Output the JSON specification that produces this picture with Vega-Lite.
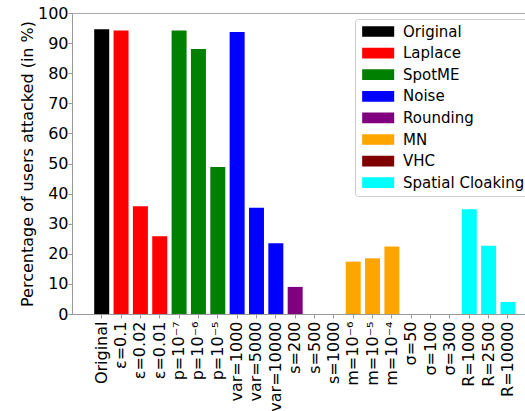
{
  "$schema": "https://vega.github.io/schema/vega-lite/v6.json",
  "width": 453,
  "height": 301,
  "autosize": {"type": "none"},
  "padding": {"left": 72, "top": 13, "right": 0, "bottom": 97},
  "background": "white",
  "config": {
    "font": "DejaVu Sans",
    "view": {"stroke": "#aaaaaa", "strokeWidth": 1}
  },
  "data": {
    "values": [
      {"label": "Original", "method": "Original", "value": 94.6},
      {"label": "ε=0.1", "method": "Laplace", "value": 94.2},
      {"label": "ε=0.02", "method": "Laplace", "value": 35.8},
      {"label": "ε=0.01", "method": "Laplace", "value": 25.8},
      {"label": "p=10⁻⁷", "method": "SpotME", "value": 94.2},
      {"label": "p=10⁻⁶", "method": "SpotME", "value": 88.0},
      {"label": "p=10⁻⁵", "method": "SpotME", "value": 48.8},
      {"label": "var=1000", "method": "Noise", "value": 93.7},
      {"label": "var=5000", "method": "Noise", "value": 35.3},
      {"label": "var=10000", "method": "Noise", "value": 23.5},
      {"label": "s=200", "method": "Rounding", "value": 9.0},
      {"label": "s=500", "method": "Rounding", "value": 0},
      {"label": "s=1000", "method": "Rounding", "value": 0},
      {"label": "m=10⁻⁶", "method": "MN", "value": 17.4},
      {"label": "m=10⁻⁵", "method": "MN", "value": 18.5},
      {"label": "m=10⁻⁴", "method": "MN", "value": 22.4},
      {"label": "σ=50", "method": "VHC", "value": 0},
      {"label": "σ=100", "method": "VHC", "value": 0},
      {"label": "σ=300", "method": "VHC", "value": 0},
      {"label": "R=1000", "method": "Spatial Cloaking", "value": 34.8},
      {"label": "R=2500", "method": "Spatial Cloaking", "value": 22.7},
      {"label": "R=10000", "method": "Spatial Cloaking", "value": 4.0}
    ]
  },
  "mark": {"type": "bar"},
  "encoding": {
    "x": {
      "field": "label",
      "type": "nominal",
      "sort": null,
      "scale": {"paddingInner": 0.225, "paddingOuter": 0.82, "align": 0.7},
      "axis": {
        "title": null,
        "labelAngle": -90,
        "labelFontSize": 16,
        "labelColor": "black",
        "labelPadding": 3,
        "domainColor": "#999999",
        "tickColor": "#999999",
        "tickSize": 4
      }
    },
    "y": {
      "field": "value",
      "type": "quantitative",
      "scale": {"domain": [0, 100], "nice": false},
      "axis": {
        "title": "Percentage of users attacked (in %)",
        "titleFontSize": 16,
        "titleFontWeight": "normal",
        "titleColor": "black",
        "titlePadding": 2,
        "values": [0, 10, 20, 30, 40, 50, 60, 70, 80, 90, 100],
        "labelFontSize": 16,
        "labelColor": "black",
        "labelPadding": 0,
        "grid": false,
        "domainColor": "#999999",
        "tickColor": "#999999",
        "tickSize": 4
      }
    },
    "color": {
      "field": "method",
      "type": "nominal",
      "scale": {
        "domain": ["Original", "Laplace", "SpotME", "Noise", "Rounding", "MN", "VHC", "Spatial Cloaking"],
        "range": ["#000000", "#ff0000", "#008000", "#0000ff", "#800080", "#ffa500", "#800000", "#00ffff"]
      },
      "legend": {
        "title": null,
        "orient": "none",
        "legendX": 283,
        "legendY": 6,
        "padding": 5,
        "fillColor": "white",
        "strokeColor": "#cccccc",
        "cornerRadius": 3,
        "symbolType": "M-1,-1H5V1H-1Z",
        "symbolSize": 114,
        "symbolStrokeWidth": 0,
        "symbolOpacity": 1,
        "labelFontSize": 15,
        "labelColor": "black",
        "labelOffset": 28,
        "rowPadding": 5.6,
        "labelLimit": 300
      }
    }
  }
}
